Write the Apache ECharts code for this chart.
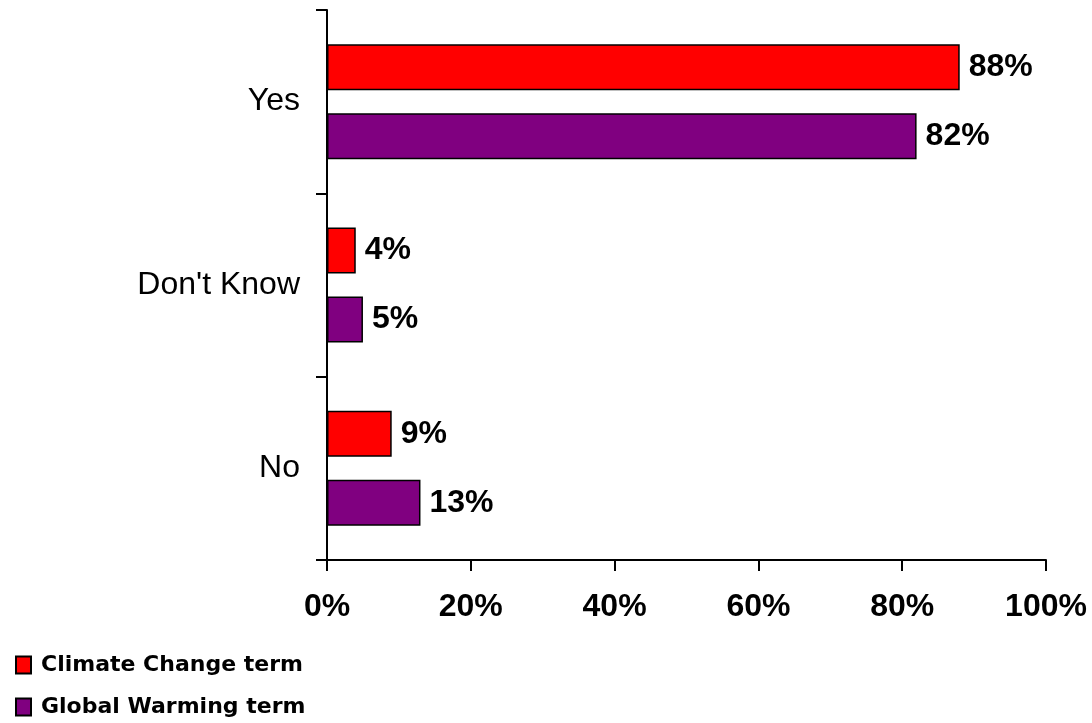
<!DOCTYPE html>
<html>
<head>
<meta charset="utf-8">
<script src="https://cdn.jsdelivr.net/npm/echarts@6/dist/echarts.min.js"></script>
<style>
html,body{margin:0;padding:0;background:#fff;}
#chart{width:1092px;height:723px;}
</style>
</head>
<body>
<div id="chart"></div>
<script>
var categories = ["Yes", "Don't Know", "No"];
var climateChange = [88, 4, 9];
var globalWarming = [82, 5, 13];
var seriesNames = ["Climate Change term", "Global Warming term"];
var xTicks = [0, 20, 40, 60, 80, 100];

var chart = echarts.init(document.getElementById('chart'));
var labelStyle = {
  show: true, position: 'right', distance: 9,
  formatter: '{c}%',
  fontFamily: 'Liberation Sans', fontWeight: 'bold', fontSize: 32, color: '#000'
};
function legendAt(top, name) {
  return {
    orient: 'vertical', left: 10, top: top,
    itemWidth: 15, itemHeight: 17,
    icon: 'rect',
    textStyle: { fontFamily: 'DejaVu Sans', fontWeight: 'bold', fontSize: 22, color: '#000', padding: [0,0,0,5] },
    data: [name]
  };
}
chart.setOption({
  animation: false,
  backgroundColor: '#fff',
  grid: { left: 327, right: 46, top: 10, bottom: 163 },
  legend: [legendAt(649, seriesNames[0]), legendAt(691, seriesNames[1])],
  xAxis: {
    type: 'value', min: xTicks[0], max: xTicks[xTicks.length-1], interval: 20,
    axisLine: { show: true, lineStyle: { color: '#000', width: 2 } },
    axisTick: { show: true, length: 11, lineStyle: { color: '#000', width: 2 } },
    splitLine: { show: false },
    axisLabel: { formatter: '{value}%', margin: 31, fontFamily: 'Liberation Sans', fontWeight: 'bold', fontSize: 32, color: '#000' }
  },
  yAxis: {
    type: 'category', data: categories, inverse: true,
    axisLine: { show: true, lineStyle: { color: '#000', width: 2 } },
    axisTick: { show: true, length: 11, lineStyle: { color: '#000', width: 2 } },
    axisLabel: { margin: 27, fontFamily: 'Liberation Sans', fontSize: 32, color: '#000' }
  },
  series: [
    { name: seriesNames[0], type: 'bar', data: climateChange, barGap: '50%', barCategoryGap: '37.3%',
      itemStyle: { color: '#ff0000', borderColor: '#000', borderWidth: 1.5 }, label: labelStyle },
    { name: seriesNames[1], type: 'bar', data: globalWarming, barGap: '50%', barCategoryGap: '37.3%',
      itemStyle: { color: '#800080', borderColor: '#000', borderWidth: 1.5 }, label: labelStyle }
  ]
});
</script>
</body>
</html>
